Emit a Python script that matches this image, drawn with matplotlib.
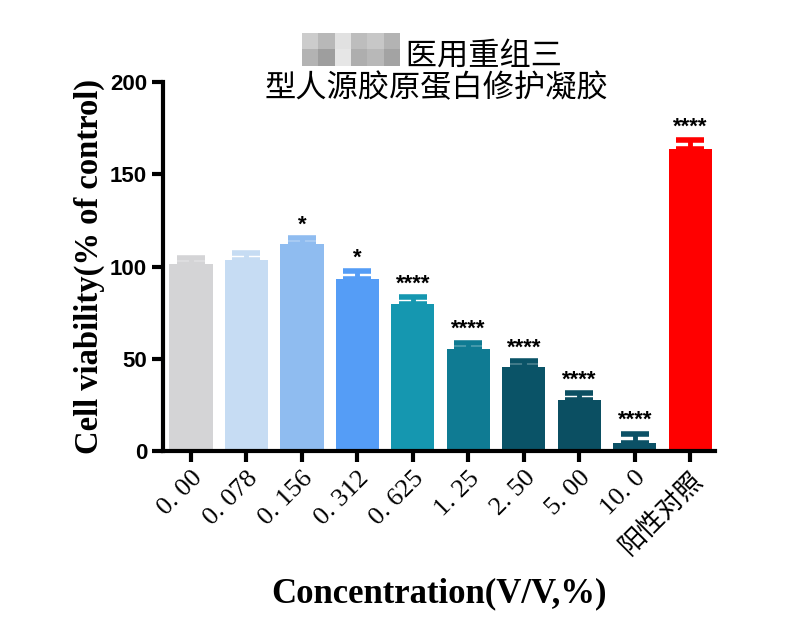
import numpy as np
import matplotlib
matplotlib.use('Agg')
import matplotlib.pyplot as plt

plt.rcParams['font.family'] = ['Noto Sans CJK SC', 'DejaVu Sans']

# data
labels = ['0. 00', '0. 078', '0. 156', '0. 312', '0. 625', '1. 25', '2. 50', '5. 00', '10. 0', '阳性对照']
viability = [101.5, 103.5, 112.5, 93.5, 79.5, 55.5, 45.5, 27.5, 4.5, 163.5]
sem = [3.0, 4.0, 3.0, 4.0, 4.0, 3.2, 3.2, 4.0, 5.0, 5.0]
stars = ['', '', '*', '*', '****', '****', '****', '****', '****', '****']
colors = ['#d4d4d6', '#c6dcf3', '#8fbcf0', '#559df6', '#1597b0', '#0f7b93',
          '#0a5367', '#0b4f62', '#0c5166', '#ff0000']

fig = plt.figure(figsize=(8, 6.31), dpi=100)
ax = fig.add_axes([0.204, 0.285, 0.69, 0.585])

x = np.arange(len(viability))
ax.bar(x, viability, width=0.78, color=colors, zorder=2)
for xi, v, e, c in zip(x, viability, sem, colors):
    ax.errorbar(xi, v, yerr=[[0], [e]], color=c, capsize=10, capthick=4,
                elinewidth=3.5, zorder=1)
for xi, v, e, s in zip(x, viability, sem, stars):
    if s:
        ax.text(xi, v + e + 1.5, s, ha='center', va='bottom', fontsize=16,
                family='Liberation Sans', fontweight='bold')

ax.set_xlim(-0.5, 9.45)
ax.set_ylim(0, 200)
ax.set_yticks([0, 50, 100, 150, 200])
for side in ['top', 'right']:
    ax.spines[side].set_visible(False)
for side in ['left', 'bottom']:
    ax.spines[side].set_linewidth(3)
ax.tick_params(axis='both', length=8, width=3)

ax.set_xticks(x)
ax.set_xticklabels(labels, rotation=45, ha='right', va='top',
                   rotation_mode='anchor', fontsize=19,
                   family=['Liberation Serif', 'Noto Sans CJK SC'])
for t in ax.get_yticklabels():
    t.set_family('Liberation Sans')
    t.set_fontweight('bold')
    t.set_fontsize(16)

ax.set_ylabel('Cell viability(% of control)', family='Liberation Serif',
              fontweight='bold', fontsize=23.5, labelpad=4)
ax.set_xlabel('Concentration(V/V,%)', family='Liberation Serif',
              fontweight='bold', fontsize=25, labelpad=13)

fig.text(0.546, 1 - 57 / 631, '\u3000\u3000\u3000医用重组三', fontsize=22.5,
         ha='center', va='center')
fig.text(0.546, 1 - 88 / 631, '型人源胶原蛋白修护凝胶', fontsize=22.5,
         ha='center', va='center')

# blurred (mosaic) part of the title
mosaic = np.array([[0.80, 0.72, 0.88, 0.74, 0.78, 0.70],
                   [0.70, 0.62, 0.90, 0.68, 0.72, 0.64]])
max_ = fig.add_axes([302 / 800, 1 - 66 / 631, 98 / 800, 33 / 631])
max_.imshow(mosaic, cmap='gray', vmin=0, vmax=1, aspect='auto')
max_.axis('off')

fig.savefig('out.png', dpi=100)
